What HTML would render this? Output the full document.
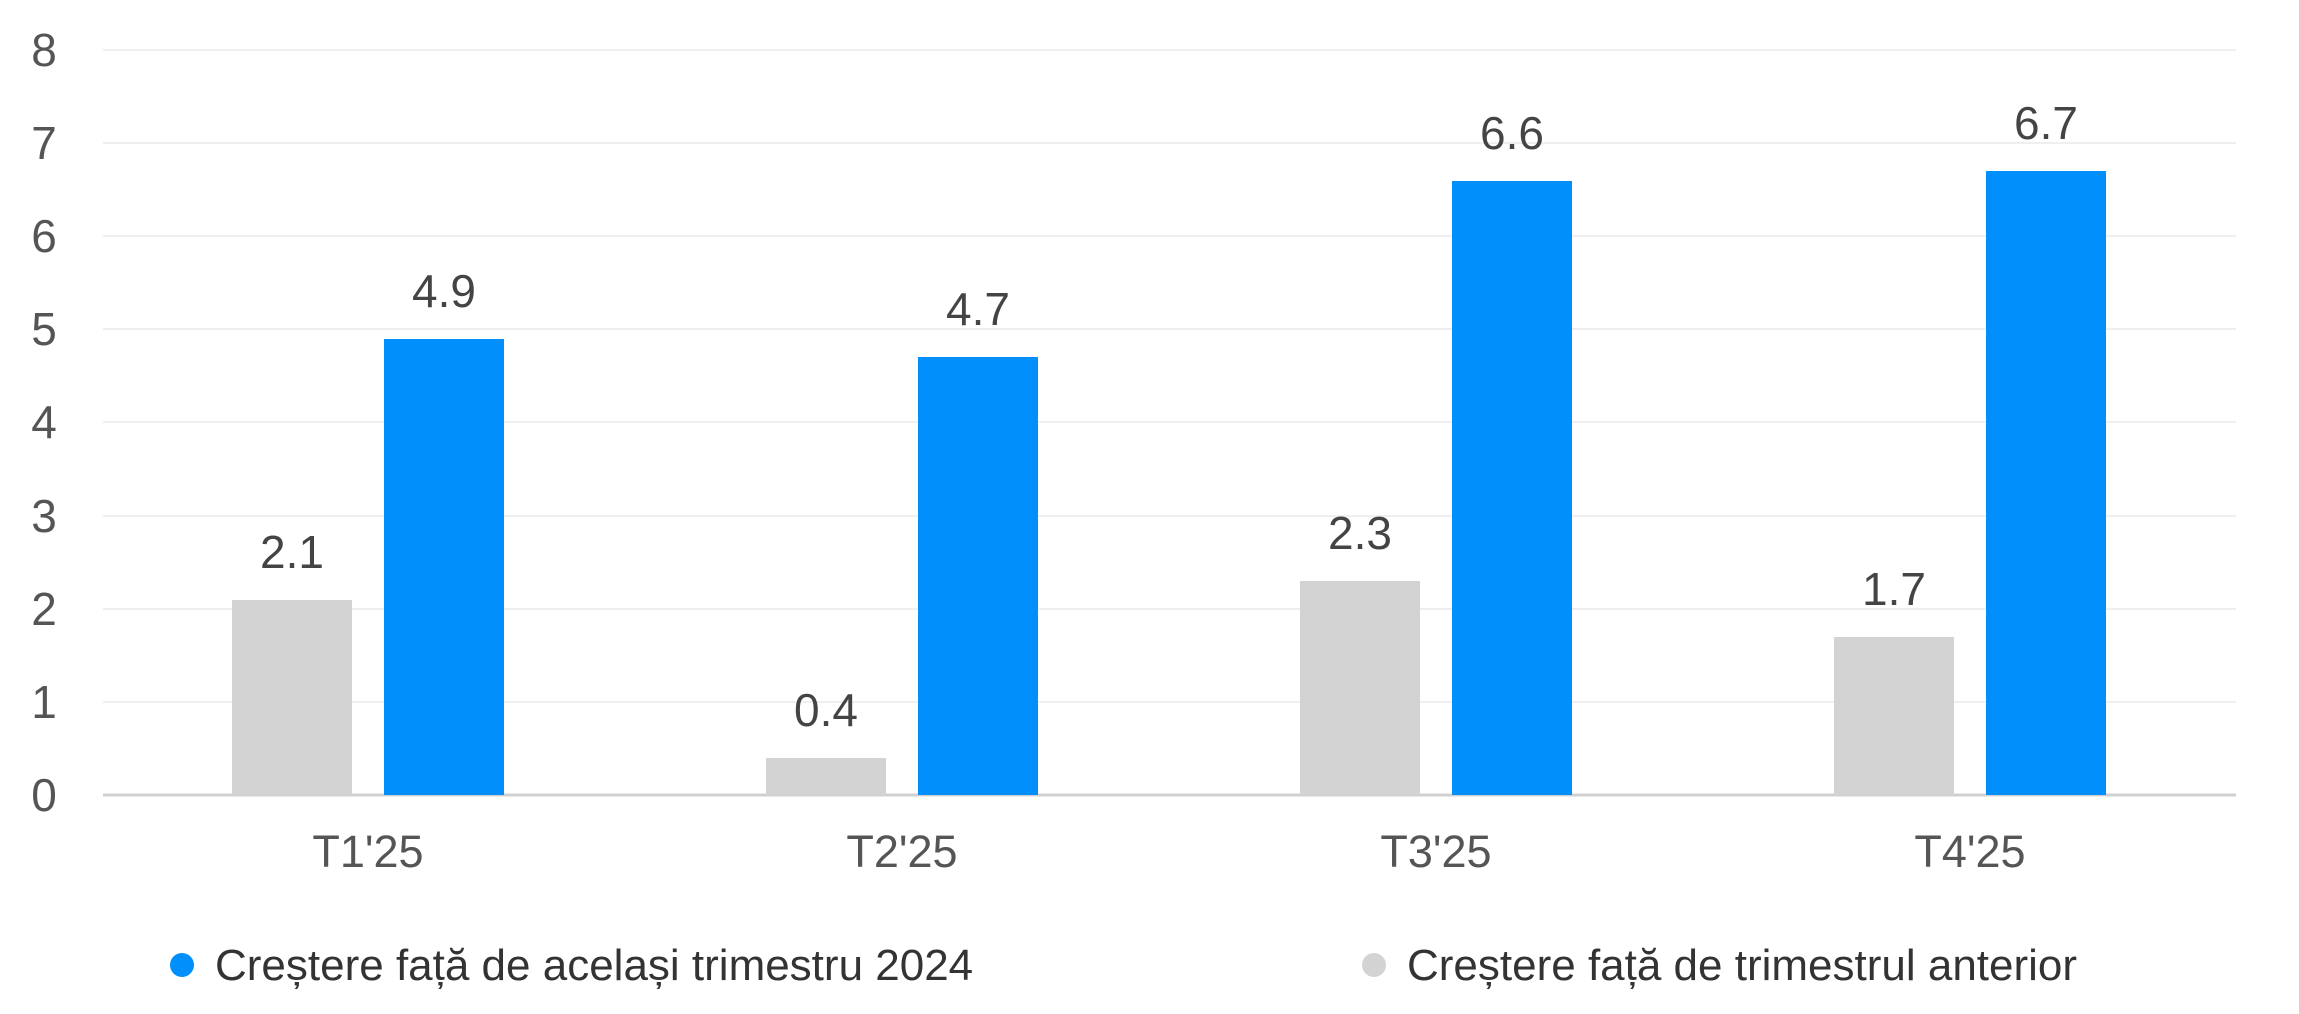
<!DOCTYPE html>
<html><head><meta charset="utf-8"><style>
html,body{margin:0;padding:0;background:#fff;}
svg{display:block;font-family:"Liberation Sans",sans-serif;}
</style></head><body>
<svg width="2299" height="1014" viewBox="0 0 2299 1014" xmlns="http://www.w3.org/2000/svg">
<g stroke="#efefef" stroke-width="2">
<line x1="103" x2="2236" y1="50" y2="50"/>
<line x1="103" x2="2236" y1="143" y2="143"/>
<line x1="103" x2="2236" y1="236" y2="236"/>
<line x1="103" x2="2236" y1="329" y2="329"/>
<line x1="103" x2="2236" y1="422" y2="422"/>
<line x1="103" x2="2236" y1="516" y2="516"/>
<line x1="103" x2="2236" y1="609" y2="609"/>
<line x1="103" x2="2236" y1="702" y2="702"/>
</g>
<line x1="103" x2="2236" y1="795" y2="795" stroke="#d0d0d0" stroke-width="3"/>
<g fill="#555" font-size="46" text-anchor="middle">
<text x="44" y="66">8</text><text x="44" y="159">7</text><text x="44" y="252">6</text>
<text x="44" y="345">5</text><text x="44" y="438">4</text><text x="44" y="532">3</text>
<text x="44" y="625">2</text><text x="44" y="718">1</text><text x="44" y="811">0</text>
</g>
<g fill="#d3d3d3">
<rect x="232" y="600" width="120" height="195"/>
<rect x="766" y="758" width="120" height="37"/>
<rect x="1300" y="581" width="120" height="214"/>
<rect x="1834" y="637" width="120" height="158"/>
</g>
<g fill="#008ffb">
<rect x="384" y="339" width="120" height="456"/>
<rect x="918" y="357" width="120" height="438"/>
<rect x="1452" y="181" width="120" height="614"/>
<rect x="1986" y="171" width="120" height="624"/>
</g>
<g fill="#444" font-size="46" text-anchor="middle">
<text x="292" y="568">2.1</text><text x="444" y="307">4.9</text>
<text x="826" y="726">0.4</text><text x="978" y="325">4.7</text>
<text x="1360" y="549">2.3</text><text x="1512" y="149">6.6</text>
<text x="1894" y="605">1.7</text><text x="2046" y="139">6.7</text>
</g>
<g fill="#555" font-size="45" text-anchor="middle">
<text x="368" y="867">T1'25</text><text x="902" y="867">T2'25</text>
<text x="1436" y="867">T3'25</text><text x="1970" y="867">T4'25</text>
</g>
<circle cx="182" cy="965" r="12" fill="#008ffb"/>
<text x="215" y="980" font-size="44" fill="#333">Creștere față de același trimestru 2024</text>
<circle cx="1374" cy="965" r="12" fill="#d3d3d3"/>
<text x="1407" y="980" font-size="44" fill="#333">Creștere față de trimestrul anterior</text>
</svg>
</body></html>
